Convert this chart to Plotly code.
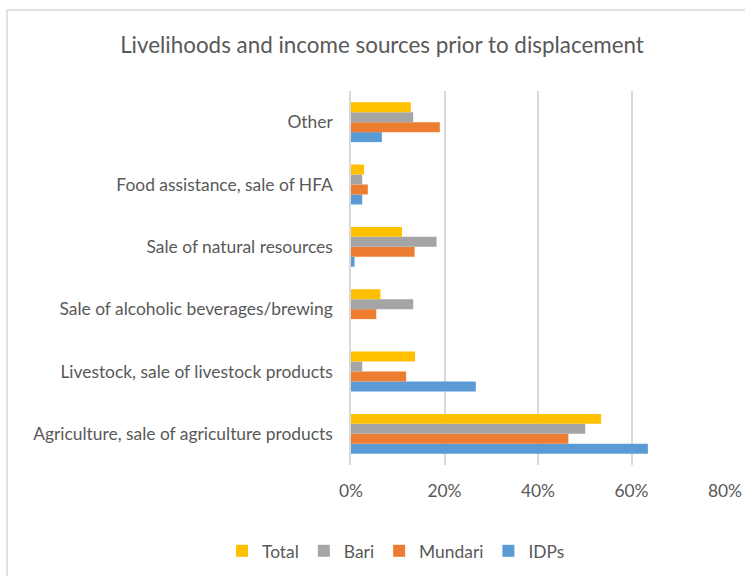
import plotly.graph_objects as go

categories = [
    "Agriculture, sale of agriculture products",
    "Livestock, sale of livestock products",
    "Sale of alcoholic beverages/brewing",
    "Sale of natural resources",
    "Food assistance, sale of HFA",
    "Other",
]
total = [53.5, 13.7, 6.3, 10.9, 2.8, 12.8]
bari = [50.1, 2.4, 13.3, 18.3, 2.4, 13.3]
mundari = [46.5, 11.8, 5.4, 13.6, 3.6, 19.0]
idps = [63.5, 26.7, 0.0, 0.75, 2.4, 6.6]

x_ticks = [0, 20, 40, 60, 80]
x_tick_labels = ["0%", "20%", "40%", "60%", "80%"]

series = [
    ("IDPs", idps, "#5b9bd5"),
    ("Mundari", mundari, "#ed7d31"),
    ("Bari", bari, "#a5a5a5"),
    ("Total", total, "#ffc000"),
]

W, H = 745, 576
L, R, T, B = 351, 20, 91, 111
pw = W - L - R
ph = H - T - B

fig = go.Figure()
for name, vals, color in series:
    fig.add_trace(go.Bar(
        y=categories, x=vals, name=name, orientation="h",
        marker=dict(color=color, line=dict(width=0)),
    ))

font_family = "Lato, 'Open Sans', sans-serif"
fig.update_layout(
    width=W, height=H,
    margin=dict(l=L, r=R, t=T, b=B, autoexpand=False),
    barmode="group", bargap=0.36, bargroupgap=0,
    paper_bgcolor="white", plot_bgcolor="white",
    font=dict(family=font_family, color="#595959", size=17.4),
    title=dict(text="Livelihoods and income sources prior to displacement",
               x=382 / W, xref="container", xanchor="center",
               y=1 - 45 / H, yref="container", yanchor="middle",
               font=dict(size=22.4, color="#595959", family=font_family)),
    xaxis=dict(range=[0, 80], tickvals=x_ticks, ticktext=x_tick_labels,
               showgrid=True, gridcolor="#d9d9d9", gridwidth=1.5,
               zeroline=False, showline=False, ticks="", automargin=False,
               ticklabelstandoff=14, tickfont=dict(size=17.4)),
    yaxis=dict(showgrid=False, zeroline=False, showline=True,
               linecolor="#d9d9d9", linewidth=1.5, ticks="", automargin=False,
               ticklabelstandoff=13, tickfont=dict(size=17.4)),
    legend=dict(orientation="h", traceorder="reversed",
                x=(396 - L) / pw, xanchor="center",
                y=-(551 - (T + ph)) / ph, yanchor="middle",
                font=dict(size=17.4, color="#595959"),
                itemwidth=30),
    showlegend=True,
)

# outer chart border
fig.add_shape(type="line", xref="paper", yref="paper",
              x0=(7 - L) / pw, x1=(W + 5 - L) / pw,
              y0=1 + (T - 10) / ph, y1=1 + (T - 10) / ph,
              line=dict(color="#d9d9d9", width=1.5))
fig.add_shape(type="line", xref="paper", yref="paper",
              x0=(7 - L) / pw, x1=(7 - L) / pw,
              y0=1 + (T - 10) / ph, y1=-(H + 5 - T - ph) / ph,
              line=dict(color="#d9d9d9", width=1.5))

fig.write_html(
    "out.html",
    config={"displayModeBar": False},
    post_script="document.body.style.margin='0';document.body.style.overflow='hidden';",
)
